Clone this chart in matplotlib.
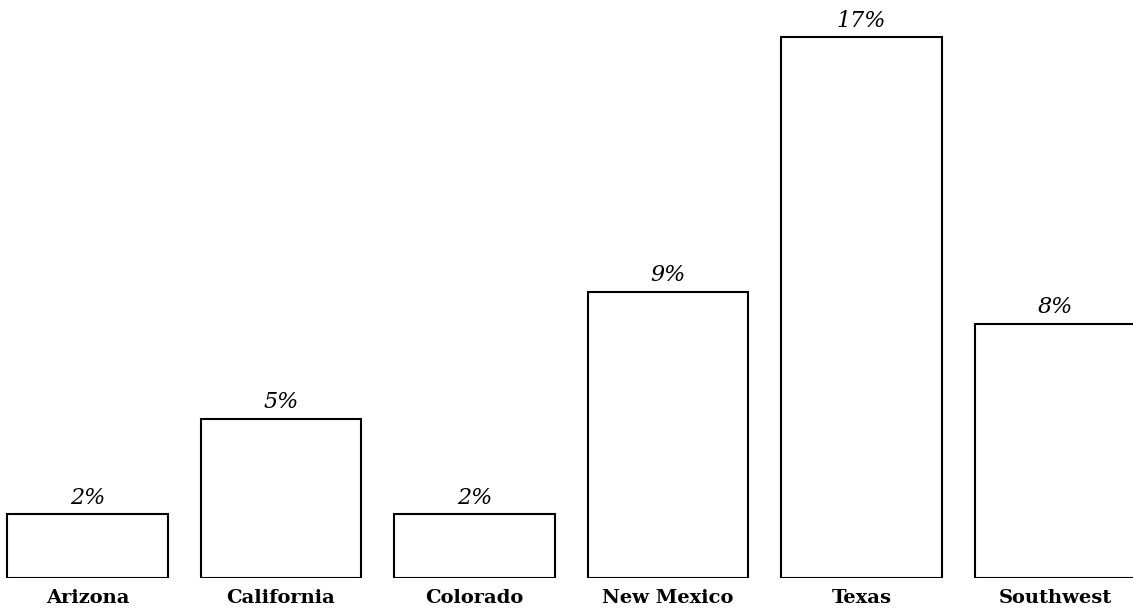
import matplotlib.pyplot as plt
import numpy as np

states = ["Arizona", "California", "Colorado", "New Mexico", "Texas", "Southwest"]
shares = [2, 5, 2, 9, 17, 8]
labels = ["2%", "5%", "2%", "9%", "17%", "8%"]

fig = plt.figure(figsize=(11.33, 6.12), dpi=100)
ax = fig.add_axes([0, 34 / 612, 1, 578 / 612])

x = np.arange(len(states))
ax.bar(x, shares, width=0.827, color="white", edgecolor="black", linewidth=1.5)

for xi, v, lab in zip(x, shares, labels):
    ax.annotate(lab, (xi, v), xytext=(0, 4), textcoords="offset points",
                ha="center", va="bottom", fontsize=16, style="italic",
                family="DejaVu Serif")

ax.set_xticks(x)
ax.set_xticklabels(states, fontsize=14, fontweight="bold", family="DejaVu Serif")
ax.tick_params(axis="x", length=0, pad=8)
ax.set_yticks([])
for s in ax.spines.values():
    s.set_visible(False)

ax.set_xlim(-87.5 / 193.5, (1133 - 87.5) / 193.5)
ax.set_ylim(0, 578 / 31.8)

fig.savefig("out.png", dpi=100)
